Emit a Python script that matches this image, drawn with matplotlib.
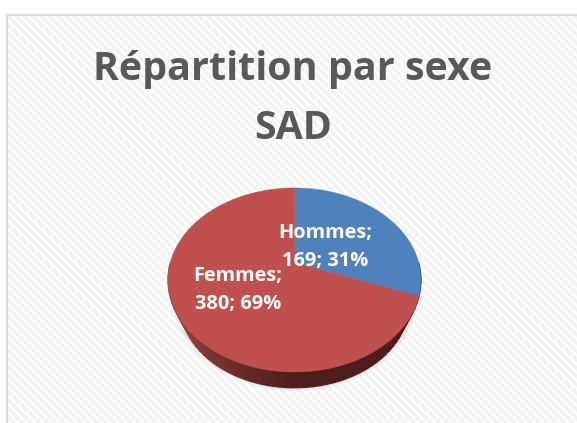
import numpy as np
import matplotlib
matplotlib.use("Agg")
import matplotlib.pyplot as plt
from matplotlib.patches import Polygon, Rectangle, Ellipse

title_lines = ["Répartition par sexe", "SAD"]
categories = ["Hommes", "Femmes"]
values = [169, 380]
percents = [31, 69]
colors = ["#4f81bd", "#c0504d"]

W, H = 577, 423
fig = plt.figure(figsize=(W / 100, H / 100), dpi=100)
ax = fig.add_axes([0, 0, 1, 1])
ax.set_xlim(0, W)
ax.set_ylim(H, 0)
ax.axis("off")

plt.rcParams["hatch.linewidth"] = 2.4
ax.add_patch(Rectangle((7, 15), W, H, facecolor="white", edgecolor="#f3f3f3", hatch="\\\\\\\\", lw=0, zorder=1))
ax.plot([7, 7, W], [H, 15, 15], color="#dcdcdc", lw=1.6, zorder=2)

cx, apex_y = 294.5, 262.5
k, a, c = 0.19, 88.7, 124.2


def project(theta):
    u, v = np.sin(theta), np.cos(theta)
    w = 1 + k * v
    return cx + c * u / w, apex_y - a * v / w


def lower(x, y, s=0.90, yc=280.0, d=25.0):
    return cx + s * (x - cx), yc + s * (y - yc) + d


# soft shadow
for grow, alpha in [(8, 0.02), (5, 0.03), (2, 0.04)]:
    ax.add_patch(Ellipse((cx, 297), 2 * 119 + grow, 182 + grow, color="black", alpha=alpha, lw=0, zorder=3))

fractions = np.array(values) / sum(values)
edges = np.concatenate([[0], np.cumsum(fractions)]) * 2 * np.pi

# side wall of the pie
side = np.linspace(np.pi / 2, 3 * np.pi / 2, 60)
dark_a = np.array([0x92, 0x3f, 0x3d]) / 255
dark_b = np.array([0x4e, 0x1e, 0x1c]) / 255
for t0, t1 in zip(side[:-1], side[1:]):
    ts = np.linspace(t0, t1, 4)
    x, y = project(ts)
    xb, yb = lower(x, y)
    m = np.clip((t0 - np.pi) / (0.3 * np.pi), 0, 1)
    col = dark_b + (dark_a - dark_b) * m
    ax.add_patch(Polygon(np.c_[np.r_[x, xb[::-1]], np.r_[y, yb[::-1]]], fc=col, ec=col, lw=0.8, zorder=4))

# top faces
for i in range(len(values)):
    ts = np.linspace(edges[i], edges[i + 1], 240)
    x, y = project(ts)
    ax.add_patch(Polygon(np.c_[np.r_[cx, x], np.r_[apex_y, y]], fc=colors[i], ec=colors[i], lw=0.3, zorder=5))

label_font = dict(family="Open Sans", weight="bold", color="white", fontsize=14.4, linespacing=1.55, ha="center", va="center", zorder=6)
ax.text(325, 247, f"{categories[0]};\n{values[0]}; {percents[0]}%", **label_font)
ax.text(238, 290, f"{categories[1]};\n{values[1]}; {percents[1]}%", **label_font)

title_font = dict(family="Open Sans", weight="bold", color="#595959", fontsize=28.4, ha="center", va="baseline", zorder=6)
ax.text(293, 80, title_lines[0], **title_font)
ax.text(293, 139, title_lines[1], **title_font)

fig.savefig("out.png", dpi=100)
